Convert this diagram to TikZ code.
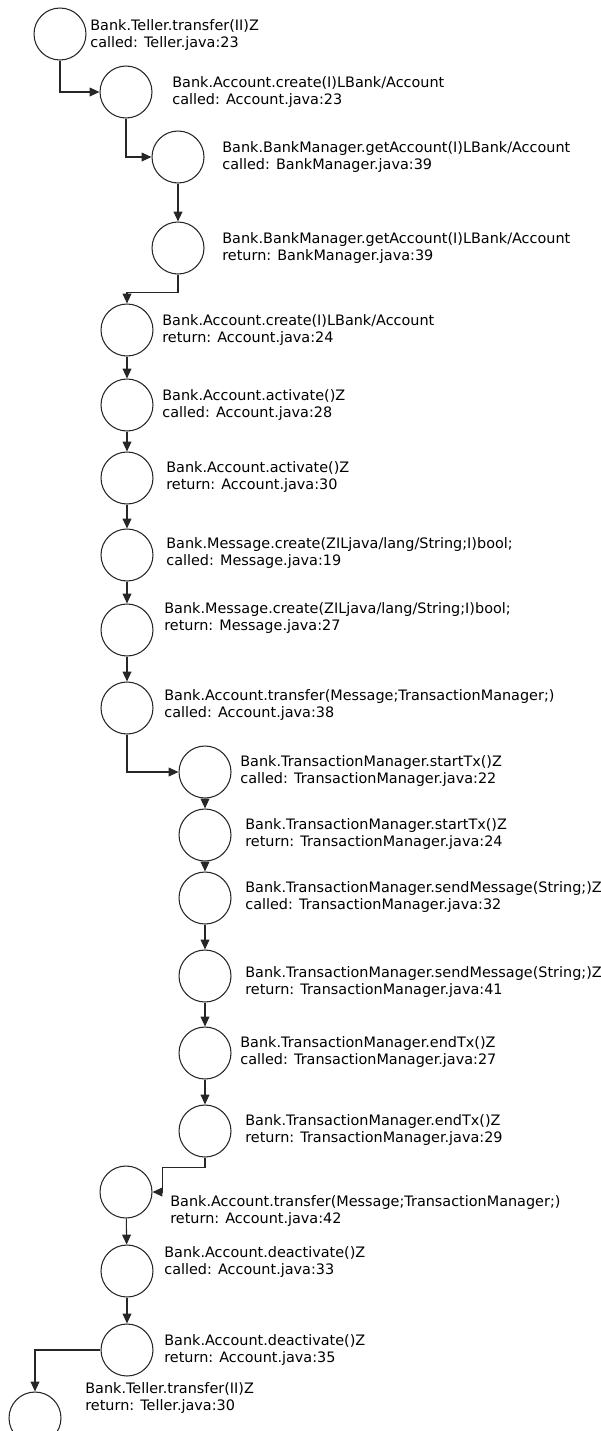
\documentclass[tikz,border=0pt]{standalone}
\usepackage{fontspec}
\setmainfont{DejaVu Sans}
\usetikzlibrary{arrows.meta, positioning, calc}

\begin{document}
\begin{tikzpicture}[
    x=0.02cm, y=-0.02cm,
    frame/.style={circle, draw=black!85, line width=0.6pt, minimum size=1.04cm, inner sep=0pt, fill=white},
    info/.style={anchor=west, align=left, inner sep=0pt, font=\fontsize{8.2}{9.4}\selectfont},
    arrow/.style={-{Triangle[length=5.6pt, width=5pt]}, line width=0.6pt, color=black!85}
]
    \useasboundingbox (0,0) rectangle (600,1431);

    % --- Call frames ---

    % Teller entry
    \node[frame] (teller-call) at (60,34) {};
    \node[info] (teller-call-lbl) at (90,35) {Bank.Teller.transfer(II)Z\\called: Teller.java:23};

    % Account.create and the nested BankManager lookup
    \node[frame] (create-call) at (126,92) {};
    \node[info] (create-call-lbl) at (172,92) {Bank.Account.create(I)LBank/Account\\called: Account.java:23};
    \node[frame] (getacc-call) at (178,157) {};
    \node[info] (getacc-call-lbl) at (222,157) {Bank.BankManager.getAccount(I)LBank/Account\\called: BankManager.java:39};
    \node[frame] (getacc-ret) at (178,248) {};
    \node[info] (getacc-ret-lbl) at (222,248) {Bank.BankManager.getAccount(I)LBank/Account\\return: BankManager.java:39};
    \node[frame] (create-ret) at (127,330) {};
    \node[info] (create-ret-lbl) at (162,330) {Bank.Account.create(I)LBank/Account\\return: Account.java:24};

    % activate + message
    \node[frame] (activate-call) at (127,405) {};
    \node[info] (activate-call-lbl) at (162,405) {Bank.Account.activate()Z\\called: Account.java:28};
    \node[frame] (activate-ret) at (127,478) {};
    \node[info] (activate-ret-lbl) at (166,477) {Bank.Account.activate()Z\\return: Account.java:30};
    \node[frame] (msg-call) at (127,555) {};
    \node[info] (msg-call-lbl) at (166,553) {Bank.Message.create(ZILjava/lang/String;I)bool;\\called: Message.java:19};
    \node[frame] (msg-ret) at (127,630) {};
    \node[info] (msg-ret-lbl) at (164,618) {Bank.Message.create(ZILjava/lang/String;I)bool;\\return: Message.java:27};

    % transfer with the TransactionManager calls inside it
    \node[frame] (transfer-call) at (127,708) {};
    \node[info] (transfer-call-lbl) at (164,705) {Bank.Account.transfer(Message;TransactionManager;)\\called: Account.java:38};
    \node[frame] (starttx-call) at (205,772) {};
    \node[info] (starttx-call-lbl) at (240,771) {Bank.TransactionManager.startTx()Z\\called: TransactionManager.java:22};
    \node[frame] (starttx-ret) at (205,835) {};
    \node[info] (starttx-ret-lbl) at (245,834) {Bank.TransactionManager.startTx()Z\\return: TransactionManager.java:24};
    \node[frame] (send-call) at (205,898) {};
    \node[info] (send-call-lbl) at (245,897) {Bank.TransactionManager.sendMessage(String;)Z\\called: TransactionManager.java:32};
    \node[frame] (send-ret) at (205,976) {};
    \node[info] (send-ret-lbl) at (245,982) {Bank.TransactionManager.sendMessage(String;)Z\\return: TransactionManager.java:41};
    \node[frame] (endtx-call) at (205,1053) {};
    \node[info] (endtx-call-lbl) at (240,1052) {Bank.TransactionManager.endTx()Z\\called: TransactionManager.java:27};
    \node[frame] (endtx-ret) at (205,1131) {};
    \node[info] (endtx-ret-lbl) at (245,1130) {Bank.TransactionManager.endTx()Z\\return: TransactionManager.java:29};
    \node[frame] (transfer-ret) at (126,1192) {};
    \node[info] (transfer-ret-lbl) at (170,1211) {Bank.Account.transfer(Message;TransactionManager;)\\return: Account.java:42};

    % deactivate and back to the teller
    \node[frame] (deactivate-call) at (127,1271) {};
    \node[info] (deactivate-call-lbl) at (164,1262) {Bank.Account.deactivate()Z\\called: Account.java:33};
    \node[frame] (deactivate-ret) at (127,1350) {};
    \node[info] (deactivate-ret-lbl) at (164,1350) {Bank.Account.deactivate()Z\\return: Account.java:35};
    \node[frame] (teller-ret) at (35,1418) {};
    \node[info] (teller-ret-lbl) at (85,1398) {Bank.Teller.transfer(II)Z\\return: Teller.java:30};

    % --- Connections ---

    % step into nested calls
    \draw[arrow] (teller-call.south) |- (create-call.west);
    \draw[arrow] (create-call.south) |- (getacc-call.west);
    \draw[arrow] (getacc-call) -- (getacc-ret);
    \draw[arrow] (getacc-ret.south) -- ++(0,18) -| (create-ret.north);

    % straight run down the Account column
    \draw[arrow] (create-ret) -- (activate-call);
    \draw[arrow] (activate-call) -- (activate-ret);
    \draw[arrow] (activate-ret) -- (msg-call);
    \draw[arrow] (msg-call) -- (msg-ret);
    \draw[arrow] (msg-ret) -- (transfer-call);

    % into the TransactionManager
    \draw[arrow] (transfer-call.south) |- (starttx-call.west);
    \draw[arrow] (starttx-call) -- (starttx-ret);
    \draw[arrow] (starttx-ret) -- (send-call);
    \draw[arrow] (send-call) -- (send-ret);
    \draw[arrow] (send-ret) -- (endtx-call);
    \draw[arrow] (endtx-call) -- (endtx-ret);

    % back out again
    \draw[arrow] (endtx-ret.south) -- ++(0,10) -| ($(transfer-ret.east)+(10,0)$) -- (transfer-ret.east);
    \draw[arrow] (transfer-ret) -- (deactivate-call);
    \draw[arrow] (deactivate-call) -- (deactivate-ret);
    \draw[arrow] (deactivate-ret.west) -| (teller-ret.north);

\end{tikzpicture}
\end{document}
